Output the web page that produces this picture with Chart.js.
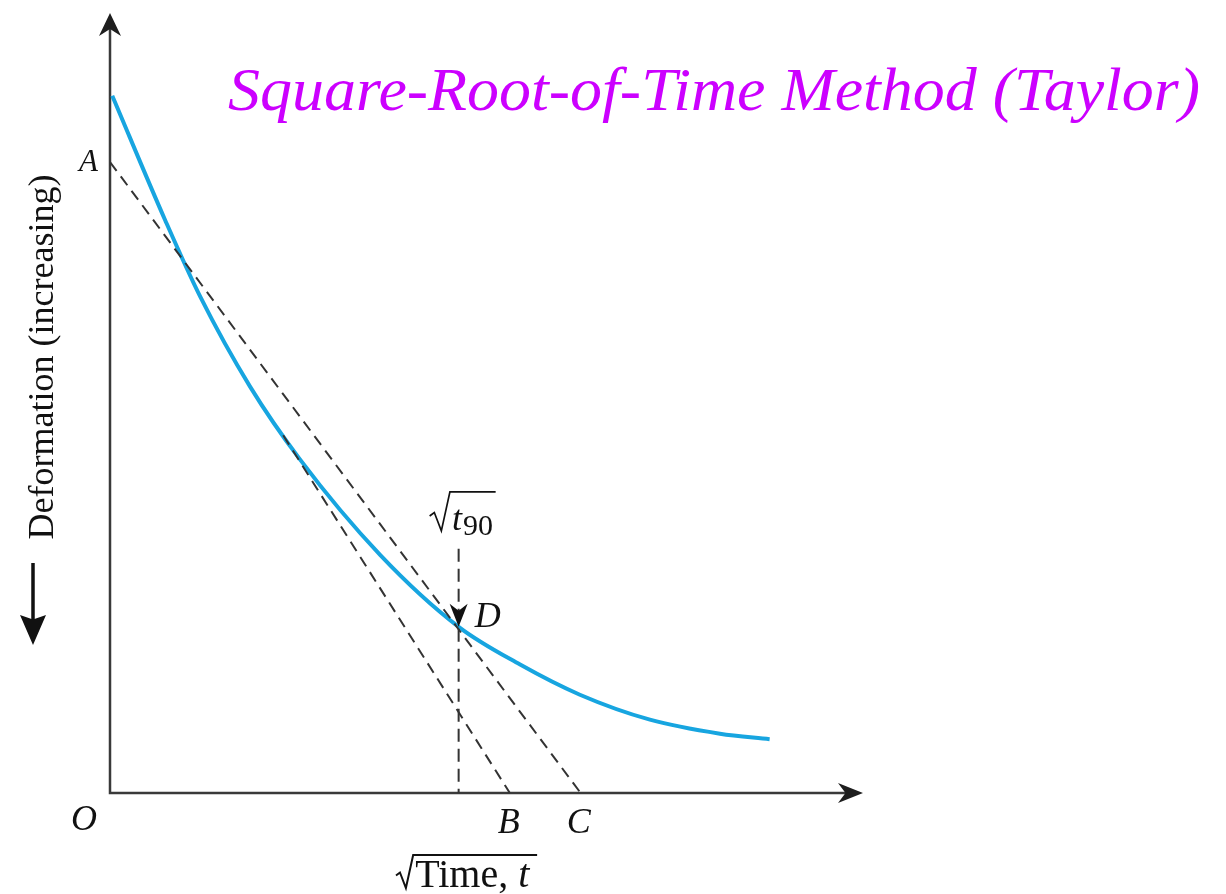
<!DOCTYPE html>
<html>
<head>
<meta charset="utf-8">
<title>Square-Root-of-Time Method (Taylor)</title>
<script src="https://cdn.jsdelivr.net/npm/chart.js@4.4.0/dist/chart.umd.min.js"></script>
<style>
  html,body{margin:0;padding:0;background:#fff;}
  #wrap{position:relative;width:1226px;height:894px;}
</style>
</head>
<body>
<div id="wrap"><canvas id="taylorChart"></canvas></div>
<script>
// sqrt(time) along x, deformation along y, both in plain units 0..10
const curveX = [0.03, 0.73, 1.20, 1.86, 2.52, 3.59, 4.63, 5.44, 6.24, 7.17, 8.10, 8.76];
const curveY = [8.94, 7.35, 6.36, 5.21, 4.28, 3.05, 2.13, 1.65, 1.26, 0.94, 0.76, 0.69];

// construction points
const pointA = 8.09;          // intercept on the deformation axis
const pointB = 5.31;          // line AB meets the time axis
const pointC = 6.25;          // line AC meets the time axis
const pointD = [4.63, 2.13];  // sqrt(t90) on the curve
const tangentFrom = 2.30;     // AB is only drawn from where it leaves the curve
const t90MarkTop = 3.13;      // top of the vertical dashed marker

const serif = '"Liberation Serif", "Times New Roman", serif';
const dash = [11, 7];
const lineOnA = (xb, xv) => pointA * (1 - xv / xb);

function arrowHead(ctx, tx, ty, ang, len, half, notch) {
  const c = Math.cos(ang), s = Math.sin(ang);
  const bx = tx - c * len, by = ty - s * len;
  ctx.beginPath();
  ctx.moveTo(tx, ty);
  ctx.lineTo(bx - s * half, by + c * half);
  ctx.lineTo(tx - c * len * (1 - notch), ty - s * len * (1 - notch));
  ctx.lineTo(bx + s * half, by - c * half);
  ctx.closePath();
  ctx.fill();
}

// radical sign: left tick, down to the foot, up to the bar, then the bar
function radical(ctx, left, top, bottom, barEnd) {
  const h = bottom - top;
  ctx.beginPath();
  ctx.moveTo(left, top + h * 0.62);
  ctx.lineTo(left + h * 0.12, top + h * 0.53);
  ctx.lineTo(left + h * 0.3, bottom);
  ctx.lineTo(left + h * 0.52, top);
  ctx.lineTo(barEnd, top);
  ctx.stroke();
  return left + h * 0.52;
}

// axes with arrow tips, drawn under the data
const axesPlugin = {
  id: 'axesPlugin',
  beforeDatasetsDraw(chart) {
    const {ctx, scales: {x, y}} = chart;
    const x0 = x.getPixelForValue(0), y0 = y.getPixelForValue(0);
    const xEnd = x.getPixelForValue(10), yEnd = y.getPixelForValue(10);
    ctx.save();
    ctx.strokeStyle = '#3a3a3a';
    ctx.fillStyle = '#1e1e1e';
    ctx.lineWidth = 2.5;
    ctx.beginPath();
    ctx.moveTo(x0, yEnd + 12);
    ctx.lineTo(x0, y0);
    ctx.lineTo(xEnd - 12, y0);
    ctx.stroke();
    arrowHead(ctx, x0, yEnd, -Math.PI / 2, 23, 11, 0.3);
    arrowHead(ctx, xEnd, y0, 0, 25, 10, 0.3);
    ctx.restore();
  }
};

// lettering, arrows and the title
const labelPlugin = {
  id: 'labelPlugin',
  afterDraw(chart) {
    const {ctx, scales: {x, y}} = chart;
    const px = v => x.getPixelForValue(v), py = v => y.getPixelForValue(v);
    ctx.save();
    ctx.fillStyle = '#111';
    ctx.strokeStyle = '#111';
    ctx.textBaseline = 'alphabetic';

    // arrow pointing down onto D
    arrowHead(ctx, px(pointD[0]), py(pointD[1]), Math.PI / 2, 23, 9, 0.3);

    // point letters
    ctx.font = 'italic 31px ' + serif;
    ctx.textAlign = 'right';
    ctx.fillText('A', px(0) - 12, py(pointA) + 9);
    ctx.font = 'italic 36px ' + serif;
    ctx.textAlign = 'center';
    ctx.fillText('O', px(0) - 26, py(0) + 37);
    ctx.textAlign = 'left';
    ctx.fillText('B', px(pointB) - 12, py(0) + 40);
    ctx.fillText('C', px(pointC) - 14, py(0) + 40);
    ctx.fillText('D', px(pointD[0]) + 16, py(pointD[1]));

    // sqrt(t90) over the marker
    let base = py(t90MarkTop) - 19;
    ctx.font = 'italic 36px ' + serif;
    let tw = ctx.measureText('t').width;
    ctx.font = '30px ' + serif;
    let nw = ctx.measureText('90').width;
    ctx.lineWidth = 1.7;
    let rx = radical(ctx, px(pointD[0]) - 29, base - 38, base + 1, px(pointD[0]) - 29 + 20 + tw + nw + 6);
    ctx.font = 'italic 36px ' + serif;
    ctx.fillText('t', rx + 2, base);
    ctx.font = '30px ' + serif;
    ctx.fillText('90', rx + 2 + tw + 1, base + 5);

    // x axis title: sqrt(Time, t)
    base = py(0) + 94;
    ctx.font = '40px ' + serif;
    let w1 = ctx.measureText('Time, ').width;
    ctx.font = 'italic 40px ' + serif;
    let w2 = ctx.measureText('t').width;
    ctx.lineWidth = 2;
    rx = radical(ctx, 396, base - 32, base + 1, 396 + 17 + w1 + w2 + 10);
    ctx.font = '40px ' + serif;
    ctx.fillText('Time, ', rx + 2, base);
    ctx.font = 'italic 40px ' + serif;
    ctx.fillText('t', rx + 2 + w1, base);

    // y axis title with its downward arrow
    ctx.save();
    ctx.translate(53, 357);
    ctx.rotate(-Math.PI / 2);
    ctx.font = '36px ' + serif;
    ctx.textAlign = 'center';
    ctx.fillText('Deformation (increasing)', 0, 0);
    ctx.restore();
    ctx.lineWidth = 3.5;
    ctx.beginPath();
    ctx.moveTo(33, 563);
    ctx.lineTo(33, 625);
    ctx.stroke();
    arrowHead(ctx, 33, 645, Math.PI / 2, 30, 13, 0.15);

    // title
    ctx.font = 'italic 62px ' + serif;
    ctx.fillStyle = '#cc00ff';
    ctx.textAlign = 'left';
    const title = 'Square-Root-of-Time Method (Taylor)';
    const sx = 972 / ctx.measureText(title).width;
    ctx.translate(228, 110);
    ctx.scale(sx, 1);
    ctx.fillText(title, 0, 0);
    ctx.restore();
  }
};

const dashedStyle = {borderColor: '#333', borderWidth: 2, borderDash: dash, pointRadius: 0, order: 0};

new Chart(document.getElementById('taylorChart'), {
  type: 'line',
  data: {
    datasets: [
      Object.assign({label: 'AC', data: [{x: 0, y: pointA}, {x: pointC, y: 0}]}, dashedStyle),
      Object.assign({label: 'AB', data: [{x: tangentFrom, y: lineOnA(pointB, tangentFrom)}, {x: pointB, y: 0}]}, dashedStyle),
      Object.assign({label: 't90', data: [{x: pointD[0], y: t90MarkTop}, {x: pointD[0], y: 0}]}, dashedStyle, {borderDash: [13, 7]}),
      {
        label: 'Deformation',
        data: curveX.map((v, i) => ({x: v, y: curveY[i]})),
        borderColor: '#17a5e0',
        borderWidth: 4,
        cubicInterpolationMode: 'monotone',
        pointRadius: 0,
        order: 1
      }
    ]
  },
  options: {
    responsive: true,
    maintainAspectRatio: false,
    animation: false,
    layout: {padding: {left: 110, right: 363, top: 13, bottom: 101}},
    scales: {
      x: {type: 'linear', min: 0, max: 10, display: false},
      y: {type: 'linear', min: 0, max: 10, display: false}
    },
    plugins: {legend: {display: false}, tooltip: {enabled: false}}
  },
  plugins: [axesPlugin, labelPlugin]
});
</script>
</body>
</html>
